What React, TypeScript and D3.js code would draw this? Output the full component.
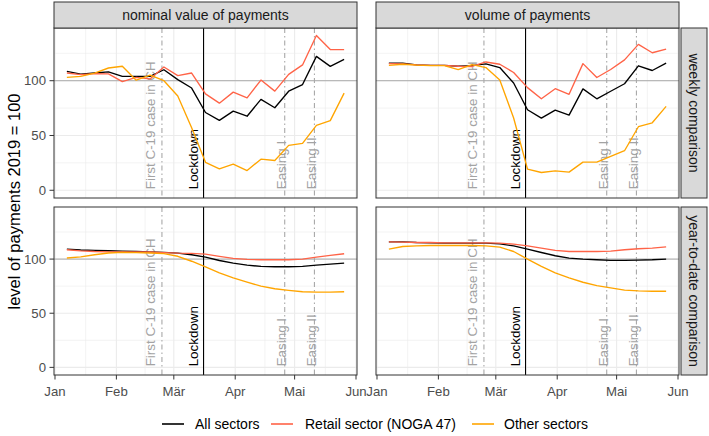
import React from "react";
import * as d3 from "d3";

// ---------- DATA ----------
const weekDates = [
  "2020-01-07", "2020-01-14", "2020-01-21", "2020-01-28", "2020-02-04", "2020-02-11", "2020-02-18",
  "2020-02-25", "2020-03-03", "2020-03-10", "2020-03-17", "2020-03-24", "2020-03-31", "2020-04-07",
  "2020-04-14", "2020-04-21", "2020-04-28", "2020-05-05", "2020-05-12", "2020-05-19", "2020-05-26",
];

const seriesNames = ["All sectors", "Retail sector (NOGA 47)", "Other sectors"];

// nominal value, weekly comparison
const nominalWeeklyAll = [108.5, 106, 107, 108, 104, 104, 104, 110, 101, 93.3, 71, 63.8, 72.2, 67.6, 83, 75.3, 90.4, 96.5, 122.2, 113.1, 119.5];
const nominalWeeklyRetail = [107, 105.6, 106.4, 106.2, 99.2, 103, 101.6, 112.5, 104.6, 107, 88, 79.5, 89.6, 84.4, 100.6, 90.5, 105.8, 114.4, 141.3, 128.4, 128.4];
const nominalWeeklyOther = [103, 104, 107, 111.6, 113.2, 100.5, 105, 100, 86, 57, 25.5, 19.6, 23.9, 18, 28.4, 27.2, 41, 42.8, 59.3, 63.6, 88.7];

// volume, weekly comparison
const volumeWeeklyAll = [116, 116, 114.5, 114, 114, 113.2, 113.8, 115.3, 112, 97.9, 73.5, 65.8, 73.2, 68.6, 92.5, 83.5, 90.4, 97.2, 113.6, 109.3, 116];
const volumeWeeklyRetail = [115.6, 115.3, 114.5, 114, 114, 113.2, 113, 117.1, 115, 107.5, 93.7, 83.5, 92.7, 87.6, 115.6, 102.9, 110.2, 119, 133.2, 125.5, 128.9];
const volumeWeeklyOther = [114, 115, 114.2, 113.8, 113.8, 110.1, 114.7, 112, 100.6, 66, 19.3, 16.2, 17.7, 16.6, 25.7, 25.7, 31, 36.1, 58, 61.6, 76.6];

// nominal value, year-to-date comparison
const nominalYtdAll = [109.2, 108.4, 108, 107.7, 107.4, 107, 106.7, 106.2, 105.5, 104, 101.8, 98.7, 96.3, 94.4, 93.2, 92.9, 92.9, 93.2, 94.4, 95.3, 96.3];
const nominalYtdRetail = [108.6, 107.6, 107, 106.7, 106.5, 106.5, 106.5, 106, 105.5, 105.3, 104.6, 102.5, 100.6, 99.7, 99.4, 99.4, 99.4, 100, 101.8, 103.4, 104.9];
const nominalYtdOther = [101, 102, 104, 105.6, 106.2, 106, 105.6, 105, 102.6, 98, 92.8, 87.3, 82.7, 78.7, 75, 72.6, 71.1, 69.8, 69.5, 69.5, 69.8];

// volume, year-to-date comparison
const volumeYtdAll = [115.9, 115.9, 115.3, 115, 114.7, 114.7, 114.7, 114.7, 114, 112.2, 109.2, 106.1, 103.1, 100.9, 100, 99.4, 98.8, 98.8, 99.1, 99.4, 100];
const volumeYtdRetail = [115.9, 115.6, 115.3, 115.3, 115, 115, 115, 115, 114.7, 113.8, 112.2, 110.1, 108, 107, 107, 107, 107.3, 108.6, 109.5, 110.1, 111.3];
const volumeYtdOther = [109.2, 111.6, 112.2, 112.5, 112.5, 112.5, 112.5, 112.2, 111, 107, 100, 93.3, 87.2, 82.6, 78.6, 75.5, 73.4, 71.3, 70.6, 70.3, 70.3];

const facetCols = ["nominal value of payments", "volume of payments"];
const facetRows = ["weekly comparison", "year-to-date comparison"];

const monthTicks = ["2020-01-01", "2020-02-01", "2020-03-01", "2020-04-01", "2020-05-01", "2020-06-01"];
const monthLabels = ["Jan", "Feb", "Mär", "Apr", "Mai", "Jun"];
const yTicks = [0, 50, 100];
const yMinorTicks = [25, 75, 125];
const refValue = 100;

const eventDates = ["2020-02-24", "2020-03-16", "2020-04-26", "2020-05-11"];
const eventLabels = ["First C-19 case in CH", "Lockdown", "Easing I", "Easing II"];
const eventSolid = [false, true, false, false];

// ---------- STYLE / LAYOUT ----------
const W = 709;
const H = 436;
const colX = [
  [54, 357],
  [376, 679],
];
const rowY = [
  [28, 198],
  [207, 375],
];
const stripTop = [2, 28];
const stripRight = [681, 707];
const colors = ["#000000", "#FF6347", "#FFA500"];
const eventLabelOffset = [-11, -10.5, -3, -3];
const FONT = "'Liberation Sans', Arial, Helvetica, sans-serif";
const legendKeyX = [162, 271, 472];
const legendTextX = [195, 305, 504];

const parse = d3.timeParse("%Y-%m-%d");

export default function App() {
  const dates = weekDates.map((d) => parse(d) as Date);
  const table = [
    [
      [nominalWeeklyAll, nominalWeeklyRetail, nominalWeeklyOther],
      [volumeWeeklyAll, volumeWeeklyRetail, volumeWeeklyOther],
    ],
    [
      [nominalYtdAll, nominalYtdRetail, nominalYtdOther],
      [volumeYtdAll, volumeYtdRetail, volumeYtdOther],
    ],
  ];
  const xDomain = [new Date(2019, 11, 31, 12), new Date(2020, 5, 1, 12)];
  const yDomain = [-7.05, 148.1];
  const months = monthTicks.map((d) => parse(d) as Date);
  const minorX = months.slice(0, -1).map((d, i) => new Date((d.getTime() + months[i + 1].getTime()) / 2));
  const evDates = eventDates.map((d) => parse(d) as Date);

  const panels: React.ReactNode[] = [];
  rowY.forEach((ry, r) => {
    colX.forEach((cx, c) => {
      const x = d3.scaleTime().domain(xDomain).range(cx);
      const y = d3.scaleLinear().domain(yDomain).range([ry[1], ry[0]]);
      const line = d3
        .line<number>()
        .x((_, i) => x(dates[i]))
        .y((v) => y(v));
      const key = `p${r}${c}`;
      panels.push(
        <g key={key}>
          <rect x={cx[0]} y={ry[0]} width={cx[1] - cx[0]} height={ry[1] - ry[0]} fill="#fff" />
          {yMinorTicks.map((t) => (
            <line key={"ym" + t} x1={cx[0]} x2={cx[1]} y1={y(t)} y2={y(t)} stroke="#EBEBEB" strokeWidth={0.6} />
          ))}
          {minorX.map((d, i) => (
            <line key={"xm" + i} x1={x(d)} x2={x(d)} y1={ry[0]} y2={ry[1]} stroke="#EBEBEB" strokeWidth={0.6} />
          ))}
          {yTicks.map((t) => (
            <line key={"yM" + t} x1={cx[0]} x2={cx[1]} y1={y(t)} y2={y(t)} stroke="#EBEBEB" strokeWidth={1.1} />
          ))}
          {months.map((d, i) => (
            <line key={"xM" + i} x1={x(d)} x2={x(d)} y1={ry[0]} y2={ry[1]} stroke="#EBEBEB" strokeWidth={1.1} />
          ))}
          <line x1={cx[0]} x2={cx[1]} y1={y(refValue)} y2={y(refValue)} stroke="#A3A3A3" strokeWidth={0.9} />
          {evDates.map((d, i) => (
            <line
              key={"ev" + i}
              x1={x(d)}
              x2={x(d)}
              y1={ry[0]}
              y2={ry[1]}
              stroke={eventSolid[i] ? "#000" : "#A8A8A8"}
              strokeWidth={eventSolid[i] ? 1.1 : 1.1}
              strokeDasharray={eventSolid[i] ? undefined : "5,3,1.5,3"}
            />
          ))}
          {evDates.map((d, i) => (
            <text
              key={"evt" + i}
              transform={`translate(${x(d) + eventLabelOffset[i]},${y(0) - 1}) rotate(-90)`}
              textAnchor="start"
              dominantBaseline="central"
              fontSize={13.4}
              fontFamily={FONT}
              fill={eventSolid[i] ? "#000" : "#A3A3A3"}
            >
              {eventLabels[i]}
            </text>
          ))}
          {table[r][c].map((vals, s) => (
            <path key={"s" + s} d={line(vals) || ""} fill="none" stroke={colors[s]} strokeWidth={1.35} strokeLinejoin="round" />
          ))}
          <rect x={cx[0]} y={ry[0]} width={cx[1] - cx[0]} height={ry[1] - ry[0]} fill="none" stroke="#333333" strokeWidth={1} />
          {c === 0 &&
            yTicks.map((t) => (
              <g key={"yt" + t}>
                <line x1={cx[0] - 4.5} x2={cx[0]} y1={y(t)} y2={y(t)} stroke="#333" strokeWidth={1} />
                <text x={cx[0] - 8} y={y(t)} textAnchor="end" dominantBaseline="central" fontSize={13.2} fontFamily={FONT} fill="#4D4D4D">
                  {t}
                </text>
              </g>
            ))}
          {r === 1 &&
            months.map((d, i) => (
              <g key={"xt" + i}>
                <line x1={x(d)} x2={x(d)} y1={ry[1]} y2={ry[1] + 4.5} stroke="#333" strokeWidth={1} />
                <text x={x(d)} y={ry[1] + 21} textAnchor="middle" fontSize={13.2} fontFamily={FONT} fill="#4D4D4D">
                  {monthLabels[i]}
                </text>
              </g>
            ))}
        </g>
      );
    });
  });

  return (
    <svg width={W} height={H} style={{ position: "absolute", left: 0, top: 0, background: "#fff" }}>
      <rect x={0} y={0} width={W} height={H} fill="#fff" />
      {panels}
      {facetCols.map((lab, c) => (
        <g key={"sc" + c}>
          <rect x={colX[c][0]} y={stripTop[0]} width={colX[c][1] - colX[c][0]} height={stripTop[1] - stripTop[0]} fill="#D9D9D9" stroke="#333" strokeWidth={1} />
          <text
            x={(colX[c][0] + colX[c][1]) / 2}
            y={(stripTop[0] + stripTop[1]) / 2}
            textAnchor="middle"
            dominantBaseline="central"
            fontSize={14}
            fontFamily={FONT}
            fill="#1A1A1A"
          >
            {lab}
          </text>
        </g>
      ))}
      {facetRows.map((lab, r) => (
        <g key={"sr" + r}>
          <rect x={stripRight[0]} y={rowY[r][0]} width={stripRight[1] - stripRight[0]} height={rowY[r][1] - rowY[r][0]} fill="#D9D9D9" stroke="#333" strokeWidth={1} />
          <text
            transform={`translate(${(stripRight[0] + stripRight[1]) / 2},${(rowY[r][0] + rowY[r][1]) / 2}) rotate(90)`}
            textAnchor="middle"
            dominantBaseline="central"
            fontSize={14}
            fontFamily={FONT}
            fill="#1A1A1A"
          >
            {lab}
          </text>
        </g>
      ))}
      <text
        transform={`translate(14,${(rowY[0][0] + rowY[1][1]) / 2}) rotate(-90)`}
        textAnchor="middle"
        dominantBaseline="central"
        fontSize={16.5}
        fontFamily={FONT}
        fill="#000"
      >
        level of payments 2019 = 100
      </text>
      {seriesNames.map((n, i) => (
        <g key={"lg" + i}>
          <line x1={legendKeyX[i]} x2={legendKeyX[i] + 22} y1={424} y2={424} stroke={colors[i]} strokeWidth={1.6} />
          <text x={legendTextX[i]} y={424} dominantBaseline="central" fontSize={14} fontFamily={FONT} fill="#000">
            {n}
          </text>
        </g>
      ))}
    </svg>
  );
}
